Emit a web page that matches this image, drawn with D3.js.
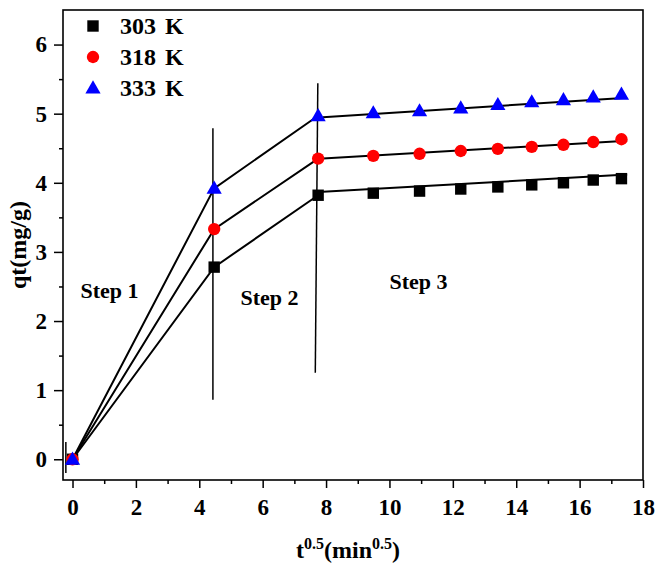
<!DOCTYPE html>
<html><head><meta charset="utf-8">
<script src="https://cdn.jsdelivr.net/npm/d3@7"></script>
<style>body{margin:0;background:#fff}svg{display:block}text{font-family:"Liberation Serif","Times New Roman",serif;font-weight:bold;fill:#000}</style>
</head><body>
<script>
const xValues = [0, 4.47, 7.75, 9.49, 10.95, 12.25, 13.42, 14.49, 15.49, 16.43, 17.32];
const series303 = [0, 2.78, 3.82, 3.85, 3.88, 3.91, 3.94, 3.97, 4.00, 4.04, 4.06];
const series318 = [0, 3.33, 4.35, 4.39, 4.42, 4.46, 4.49, 4.52, 4.55, 4.59, 4.63];
const series333 = [0, 3.92, 4.97, 5.01, 5.04, 5.08, 5.13, 5.17, 5.20, 5.24, 5.28];
const seriesNames = ["303 K", "318 K", "333 K"];
const seriesColors = ["#000000", "#ff0000", "#0000ff"];
const seriesShapes = ["square", "circle", "triangle"];
// step-3 linear fits: [x0, y0, x1, y1]
const fit303 = [7.9, 3.87, 17.5, 4.12];
const fit318 = [7.9, 4.35, 17.5, 4.61];
const fit333 = [7.9, 4.95, 17.5, 5.23];
// divider lines: [x0, y0, x1, y1]
const dividers = [[4.43, 4.79, 4.43, 0.86], [7.74, 5.44, 7.66, 1.25], [-0.21, 0.25, -0.21, -0.2]];
const stepLabels = [{t:"Step 1", x:0.25, y:2.33}, {t:"Step 2", x:5.3, y:2.23}, {t:"Step 3", x:10.0, y:2.47}];
const xTicks = [0, 2, 4, 6, 8, 10, 12, 14, 16, 18];
const yTicks = [0, 1, 2, 3, 4, 5, 6];

const W = 656, H = 564;
const svg = d3.select("body").append("svg").attr("width", W).attr("height", H);
const x = d3.scaleLinear().domain([-0.3, 18]).range([63, 643]);
const y = d3.scaleLinear().domain([-0.3, 6.5]).range([480, 10]);

// axes
const xAxis = d3.axisBottom(x).tickValues(xTicks).tickSize(8).tickPadding(11).tickFormat(d3.format("d"));
const gx = svg.append("g").attr("transform", "translate(0,480)").call(xAxis);
const xMinor = d3.axisBottom(x).tickValues(d3.range(1, 18, 2)).tickSize(4).tickFormat("");
svg.append("g").attr("transform", "translate(0,480)").call(xMinor);
const yAxis = d3.axisLeft(y).tickValues(yTicks).tickSize(9).tickPadding(7).tickFormat(d3.format("d"));
const gy = svg.append("g").attr("transform", "translate(63,0)").call(yAxis);
const yMinor = d3.axisLeft(y).tickValues(d3.range(0.5, 6.5, 1)).tickSize(4).tickFormat("");
svg.append("g").attr("transform", "translate(63,0)").call(yMinor);
svg.selectAll(".domain").remove();
svg.selectAll(".tick line").attr("stroke", "#000").attr("stroke-width", 1.5);
gx.selectAll("text").style("font-size", "23px").style("font-family", "Liberation Serif").style("font-weight", "bold");
gy.selectAll("text").style("font-size", "23px").style("font-family", "Liberation Serif").style("font-weight", "bold");
svg.append("rect").attr("x", 63).attr("y", 10).attr("width", 580).attr("height", 470)
  .attr("fill", "none").attr("stroke", "#000").attr("stroke-width", 1.6);

// axis titles
const xt = svg.append("text").attr("x", 348).attr("y", 558).attr("text-anchor", "middle").style("font-size", "24px");
xt.append("tspan").text("t");
xt.append("tspan").text("0.5").attr("dy", -9).style("font-size", "16px");
xt.append("tspan").text("(min").attr("dy", 9);
xt.append("tspan").text("0.5").attr("dy", -9).style("font-size", "16px");
xt.append("tspan").text(")").attr("dy", 9);
svg.append("text").attr("transform", "translate(26,245) rotate(-90)").attr("text-anchor", "middle")
  .style("font-size", "24px").text("qt(mg/g)");

// dividers
dividers.forEach(d => svg.append("line").attr("x1", x(d[0])).attr("y1", y(d[1])).attr("x2", x(d[2])).attr("y2", y(d[3]))
  .attr("stroke", "#000").attr("stroke-width", 1.5));

// step labels
stepLabels.forEach(s => svg.append("text").attr("x", x(s.x)).attr("y", y(s.y)).style("font-size", "22px").text(s.t));

const allSeries = [series303, series318, series333];
const fits = [fit303, fit318, fit333];
const line = d3.line().x(d => x(d[0])).y(d => y(d[1]));
allSeries.forEach((s, i) => {
  const pts = xValues.slice(0, 3).map((xv, j) => [xv, s[j]]);
  svg.append("path").attr("d", line(pts)).attr("fill", "none").attr("stroke", "#000").attr("stroke-width", 2);
  const f = fits[i];
  svg.append("path").attr("d", line([[f[0], f[1]], [f[2], f[3]]])).attr("fill", "none").attr("stroke", "#000").attr("stroke-width", 2);
});

const symbolMap = {square: d3.symbolSquare, circle: d3.symbolCircle, triangle: d3.symbolTriangle};
const symbolSize = {square: 130, circle: 120, triangle: 100};
function drawSym(g, shape, cx, cy, color) {
  g.append("path").attr("d", d3.symbol().type(symbolMap[shape]).size(symbolSize[shape])())
    .attr("transform", `translate(${cx},${cy + (shape === "triangle" ? 1 : 0)})`).attr("fill", color);
}
allSeries.forEach((s, i) => {
  const g = svg.append("g");
  s.forEach((v, j) => drawSym(g, seriesShapes[i], x(xValues[j]), y(v), seriesColors[i]));
});

// legend
seriesNames.forEach((n, i) => {
  const g = svg.append("g");
  drawSym(g, seriesShapes[i], 93, 26 + i * 31, seriesColors[i]);
  g.append("text").attr("x", 120).attr("y", 34 + i * 31).style("font-size", "24px").style("word-spacing", "3px").text(n);
});
</script>
</body></html>
